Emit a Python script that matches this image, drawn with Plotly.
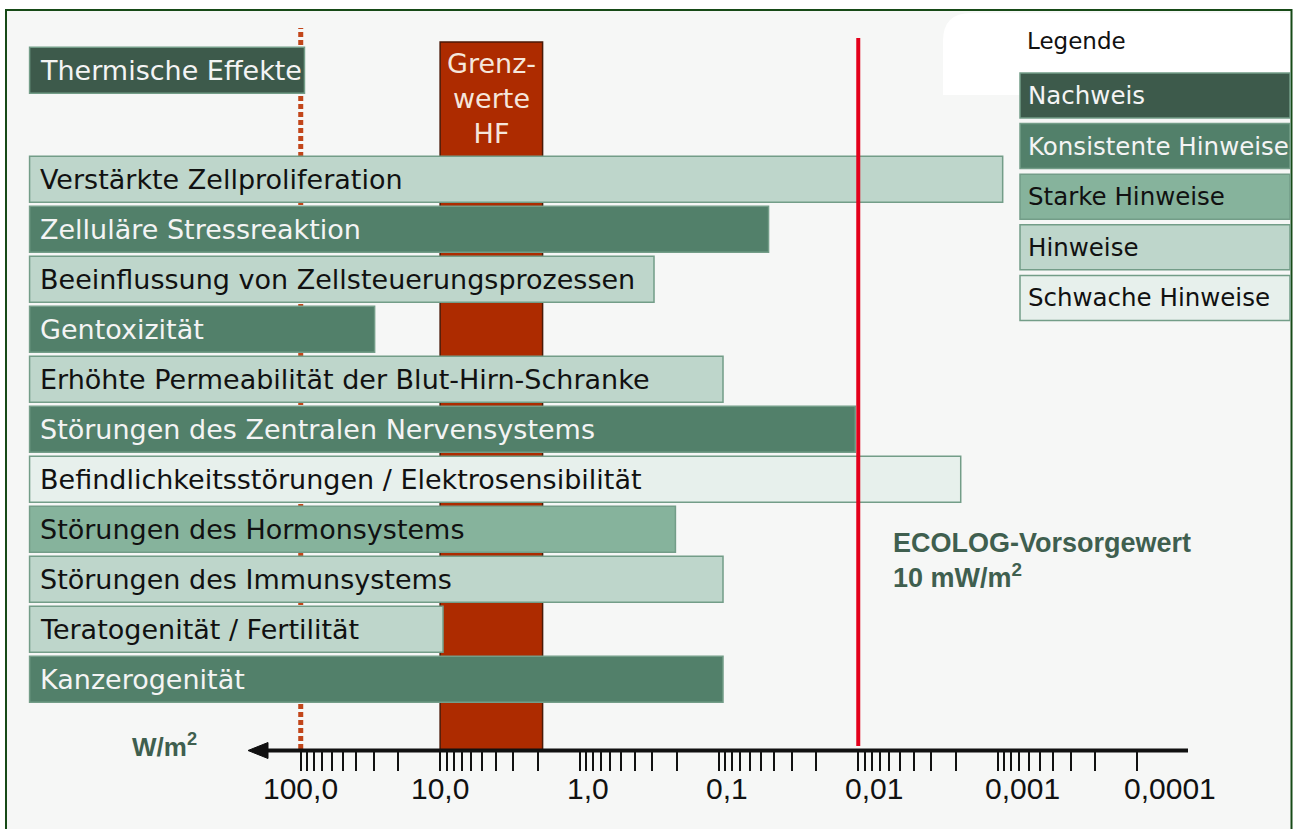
import math
import plotly.graph_objects as go

# ---------------- data ----------------
EFFECTS = [
    "Thermische Effekte",
    "Verstärkte Zellproliferation",
    "Zelluläre Stressreaktion",
    "Beeinflussung von Zellsteuerungsprozessen",
    "Gentoxizität",
    "Erhöhte Permeabilität der Blut-Hirn-Schranke",
    "Störungen des Zentralen Nervensystems",
    "Befindlichkeitsstörungen / Elektrosensibilität",
    "Störungen des Hormonsystems",
    "Störungen des Immunsystems",
    "Teratogenität / Fertilität",
    "Kanzerogenität",
]
# lowest power density (W/m²) at which the effect was reported
EFFECT_LEVEL = [94, 0.00092, 0.044, 0.292, 29.5, 0.0934, 0.0105, 0.00184, 0.205, 0.0934, 9.53, 0.0934]
EVIDENCE = [
    "Nachweis", "Hinweise", "Konsistente Hinweise", "Hinweise", "Konsistente Hinweise",
    "Hinweise", "Konsistente Hinweise", "Schwache Hinweise", "Starke Hinweise",
    "Hinweise", "Hinweise", "Konsistente Hinweise",
]
SCALE_MAX = 8820            # W/m², left end of the scale (bars start here)
GRENZWERTE_HF = [10, 1.84]  # W/m², band of HF limit values
THERMAL_LIMIT = 100         # W/m²
ECOLOG_VALUE = 0.01         # W/m² = 10 mW/m²

LEGEND_LABELS = ["Nachweis", "Konsistente Hinweise", "Starke Hinweise", "Hinweise", "Schwache Hinweise"]
LEGEND_COLORS = ["#3d5a4b", "#52806a", "#86b39c", "#bed6cb", "#e7f0ec"]
LEGEND_TEXT = ["#f4f4f4", "#f4f4f4", "#111111", "#111111", "#111111"]

TICK_VALUES = [100, 10, 1, 0.1, 0.01, 0.001, 0.0001]
TICK_LABELS = ["100,0", "10,0", "1,0", "0,1", "0,01", "0,001", "0,0001"]

# ---------------- layout helpers ----------------
W, H = 1295, 829
def px_x(p):
    return p / W
def px_y(p):
    return 1 - p / H

X_LEFT_LOG = 4.1577
X_RIGHT_LOG = -5.1335
AXIS_PY = 751
Y_TOP_V, Y_BOT_V = -2.586, 12.434

# row positions (Thermische Effekte sits apart above the others)
ypos = [(-1.18 if i == 0 else i) for i in range(len(EFFECTS))]
color_of = dict(zip(LEGEND_LABELS, LEGEND_COLORS))
textcol_of = dict(zip(LEGEND_LABELS, LEGEND_TEXT))

BAR_FONT = "DejaVu Sans"
ARIAL = "Liberation Sans, Arial"
GREEN_TXT = "#3f5f4f"
BORDER = "#739d88"

fig = go.Figure()

for cls in LEGEND_LABELS:
    idx = [i for i, e in enumerate(EVIDENCE) if e == cls]
    if not idx:
        continue
    fig.add_trace(go.Bar(
        orientation="h",
        y=[ypos[i] for i in idx],
        base=[EFFECT_LEVEL[i] for i in idx],
        x=[SCALE_MAX - EFFECT_LEVEL[i] for i in idx],
        width=0.92,
        marker=dict(color=color_of[cls], line=dict(color=BORDER, width=1.5)),
        name=cls,
        showlegend=False,
        hovertext=[EFFECTS[i] for i in idx],
        hoverinfo="text",
    ))

annotations = []
for i, name in enumerate(EFFECTS):
    annotations.append(dict(
        x=math.log10(SCALE_MAX), xref="x", y=ypos[i], yref="y",
        text=name, showarrow=False, xanchor="left", yanchor="middle", xshift=8,
        font=dict(family=BAR_FONT, size=27, color=textcol_of[EVIDENCE[i]]),
    ))

# tick labels
for v, lab in zip(TICK_VALUES, TICK_LABELS):
    centered = v >= 10
    annotations.append(dict(
        x=math.log10(v), xref="x", y=px_y(788), yref="paper",
        text=lab, showarrow=False,
        xanchor="center" if centered else "left", xshift=0 if centered else -15,
        yanchor="middle",
        font=dict(family=ARIAL, size=30, color="#111111"),
    ))

# Grenzwerte label
annotations.append(dict(
    x=math.log10(math.sqrt(GRENZWERTE_HF[0] * GRENZWERTE_HF[1])), xref="x",
    y=px_y(46), yref="paper", yanchor="top", xanchor="center",
    text="Grenz-<br>werte<br>HF", showarrow=False, align="center",
    font=dict(family=BAR_FONT, size=27, color="#f5e6dc"),
))

# ECOLOG label
annotations.append(dict(
    x=px_x(891), xref="paper", y=px_y(526), yref="paper", xanchor="left", yanchor="top",
    text="<b>ECOLOG-Vorsorgewert<br>10 mW/m<sup>2</sup></b>", showarrow=False, align="left",
    font=dict(family=ARIAL, size=27, color=GREEN_TXT),
))

# unit label
annotations.append(dict(
    x=px_x(130), xref="paper", y=px_y(745), yref="paper", xanchor="left", yanchor="middle",
    text="<b>W/m<sup>2</sup></b>", showarrow=False,
    font=dict(family=ARIAL, size=26, color=GREEN_TXT),
))

# legend title
annotations.append(dict(
    x=px_x(1025), xref="paper", y=px_y(41), yref="paper", xanchor="left", yanchor="middle",
    text="Legende", showarrow=False,
    font=dict(family=BAR_FONT, size=23, color="#111111"),
))

shapes = []
# outer frame with light background
shapes.append(dict(type="rect", xref="paper", yref="paper",
                   x0=px_x(6), x1=px_x(1291.5), y0=px_y(10), y1=px_y(845),
                   fillcolor="#f6f7f6", line=dict(color="#174a17", width=2), layer="below"))
# white patch behind legend title
r = 28
path = (f"M {px_x(943)},{px_y(13 + r)} Q {px_x(943)},{px_y(13)} {px_x(943 + r)},{px_y(13)} "
        f"L {px_x(1290)},{px_y(13)} L {px_x(1290)},{px_y(95)} L {px_x(943)},{px_y(95)} Z")
shapes.append(dict(type="path", xref="paper", yref="paper", path=path,
                   fillcolor="#ffffff", line=dict(width=0), layer="below"))
# HF limit band (shape coordinates on a log axis are data values)
shapes.append(dict(type="rect", xref="x", yref="paper",
                   x0=GRENZWERTE_HF[0], x1=GRENZWERTE_HF[1],
                   y0=px_y(AXIS_PY), y1=px_y(42),
                   fillcolor="#ad2b00", line=dict(color="#4a1a08", width=1.5), layer="below"))
# thermal limit dotted line
shapes.append(dict(type="line", xref="x", yref="paper",
                   x0=THERMAL_LIMIT, x1=THERMAL_LIMIT,
                   y0=px_y(749), y1=px_y(28),
                   line=dict(color="#c2461a", width=5, dash="5px,3px"), layer="below"))
# ECOLOG precaution line
shapes.append(dict(type="line", xref="x", yref="paper",
                   x0=ECOLOG_VALUE, x1=ECOLOG_VALUE,
                   y0=px_y(746), y1=px_y(38),
                   line=dict(color="#e4001b", width=4), layer="above"))
# axis line with arrow to the left
shapes.append(dict(type="line", xref="paper", yref="paper",
                   x0=px_x(262), x1=px_x(1188), y0=px_y(750.5), y1=px_y(750.5),
                   line=dict(color="#111111", width=4), layer="above"))
shapes.append(dict(type="path", xref="paper", yref="paper",
                   path=(f"M {px_x(248)},{px_y(750.5)} L {px_x(268)},{px_y(742.5)} "
                         f"L {px_x(268)},{px_y(758.5)} Z"),
                   fillcolor="#111111", line=dict(color="#111111", width=1), layer="above"))

# custom legend boxes
for k, (lab, col, tcol) in enumerate(zip(LEGEND_LABELS, LEGEND_COLORS, LEGEND_TEXT)):
    top = 73 + k * 50.6
    shapes.append(dict(type="rect", xref="paper", yref="paper",
                       x0=px_x(1020), x1=px_x(1290), y0=px_y(top + 45), y1=px_y(top),
                       fillcolor=col, line=dict(color=BORDER, width=1.5), layer="above"))
    annotations.append(dict(
        x=px_x(1026), xref="paper", y=px_y(top + 22.5), yref="paper",
        xanchor="left", yanchor="middle", text=lab, showarrow=False,
        font=dict(family=BAR_FONT, size=24.5, color=tcol),
    ))

# axis ticks: every 1..9 x 10^k between 100 and 0.0001
tickvals = []
for k in range(2, -5, -1):
    for m in range(1, 10):
        v = m * 10 ** k
        if 0.0001 <= v <= 100:
            tickvals.append(v)

fig.update_layout(
    width=W, height=H,
    margin=dict(l=0, r=0, t=0, b=0, pad=0),
    paper_bgcolor="#ffffff",
    plot_bgcolor="rgba(0,0,0,0)",
    barmode="overlay",
    showlegend=False,
    shapes=shapes,
    annotations=annotations,
    xaxis=dict(
        type="log", range=[X_LEFT_LOG, X_RIGHT_LOG],
        tickmode="array", tickvals=tickvals, showticklabels=False,
        ticks="outside", ticklen=19, tickwidth=2, tickcolor="#111111",
        showgrid=False, zeroline=False, showline=False, automargin=False, fixedrange=True,
    ),
    yaxis=dict(
        range=[Y_BOT_V, Y_TOP_V], domain=[1 - AXIS_PY / H, 1],
        visible=False, automargin=False, fixedrange=True,
    ),
)

fig.write_html("out.html", config={"displayModeBar": False},
               post_script="document.body.style.margin='0';document.body.style.overflow='hidden';")
